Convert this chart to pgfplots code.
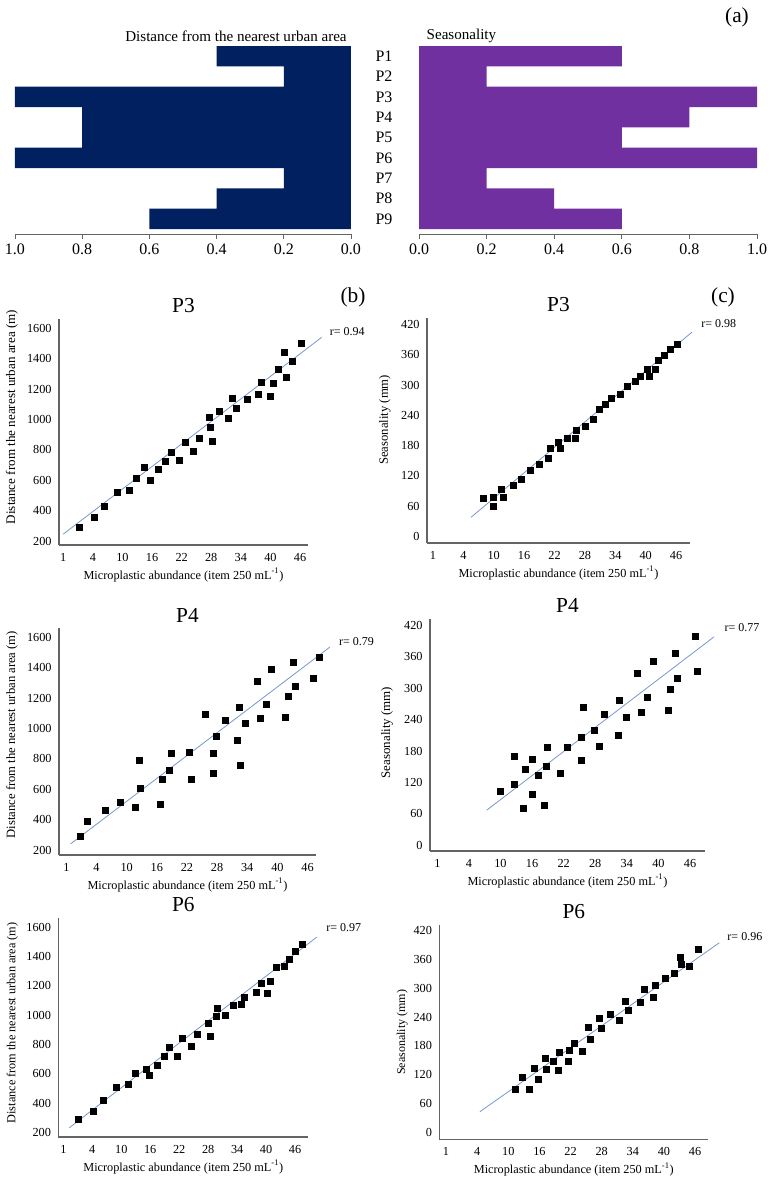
\documentclass[border=0pt]{standalone}
\usepackage{fontspec}
\setmainfont{Liberation Serif}
\usepackage{pgfplots}
\pgfplotsset{compat=1.18}
\definecolor{navy}{HTML}{002060}
\definecolor{purp}{HTML}{7030A0}
\definecolor{regline}{RGB}{120,150,205}
\definecolor{axgray}{RGB}{100,100,100}
\newcommand\tk{\fontsize{9.2}{10}\selectfont}
\newcommand\lab{\fontsize{9.2}{10}\selectfont}
\newcommand\ttl{\fontsize{16}{18}\selectfont}
\newcommand\rl{\fontsize{9}{10}\selectfont}
\newcommand\atk{\fontsize{12}{14}\selectfont}
\pgfplotsset{
  scat/.style={
    scale only axis, clip=false,
    axis lines*=left,
    axis line style={axgray, line width=0.8pt, -},
    major tick length=0pt,
    xtick={0,...,8}, xticklabels={1,4,10,16,22,28,34,40,46},
    tick label style={font=\tk},
    xticklabel style={yshift=-2.5pt},
    yticklabel style={xshift=-2pt},
    /pgf/number format/assume math mode=true,
    /pgf/number format/1000 sep={},
    xlabel={Microplastic abundance (item 250 mL\textsuperscript{-1})},
    xlabel style={font=\lab, at={(axis description cs:0.5,0)}, anchor=center, yshift=-22.5pt},
    title style={font=\ttl, at={(axis description cs:0.5,1)}, anchor=center, yshift=3.75pt},
  },
  bdist/.style={ytick={200,400,...,1600}, ylabel={Distance from the nearest urban area (m)}},
  cseas/.style={ytick={0,60,...,420}, ylabel={Seasonality (mm)}},
  pts/.style={only marks, mark=square*, mark size=2.25pt, color=black},
  reg/.style={draw=regline, line width=0.6pt, no marks},
  abar/.style={
    scale only axis, xbar, bar width=1,
    xmin=0, xmax=1, ymin=0.5, ymax=9.746, y dir=reverse,
    axis x line*=bottom, axis y line*=left,
    y axis line style={draw=none}, ytick style={draw=none},
    x axis line style={axgray, line width=0.6pt, -},
    xtick={0,0.2,...,1.0}, tick align=outside, major tick length=3.75pt,
    x tick style={axgray, line width=0.6pt},
    tick label style={font=\atk},
    /pgf/number format/assume math mode=true,
    xticklabel={\pgfmathprintnumber[fixed,fixed zerofill,precision=1]{\tick}},
    width=252pt, height=141pt,
  },
}
\begin{document}
\begin{tikzpicture}
\useasboundingbox (0,0) rectangle (579pt,-887.25pt);
% ---------- panel (a)
\begin{axis}[abar, at={(11.25pt,-34.5pt)}, anchor=north west, x dir=reverse, ytick=\empty]
\addplot[fill=navy, draw=none] coordinates {(0.4,1) (0.2,2) (1.0,3) (0.8,4) (0.8,5) (1.0,6) (0.2,7) (0.4,8) (0.6,9)};
\end{axis}
\begin{axis}[abar, at={(314.25pt,-34.5pt)}, anchor=north west, width=253.5pt,
  ytick={1,...,9}, yticklabels={P1,P2,P3,P4,P5,P6,P7,P8,P9},
  yticklabel style={anchor=center, xshift=-22.5pt}]
\addplot[fill=purp, draw=none] coordinates {(0.6,1) (0.2,2) (1.0,3) (0.8,4) (0.6,5) (1.0,6) (0.2,7) (0.4,8) (0.6,9)};
\end{axis}
\node[anchor=east, font=\fontsize{11.3}{13}\selectfont] at (263.5pt,-27pt) {Distance from the nearest urban area};
\node[anchor=west, font=\fontsize{11.3}{13}\selectfont] at (316.5pt,-27pt) {Seasonality};
\node[font=\ttl] at (552.75pt,-12.75pt) {(a)};
\node[font=\ttl] at (264.75pt,-222.75pt) {(b)};
\node[font=\ttl] at (542.25pt,-222.75pt) {(c)};
% ---------- b P3
\begin{axis}[scat, bdist, at={(44.25pt,-408.75pt)}, anchor=south west, width=186.75pt, height=169.5pt,
  xmin=-0.145, xmax=8.27, ymin=174, ymax=1662, title={P3},
  ylabel style={font=\fontsize{9.8}{10}\selectfont, at={(axis description cs:-0.189,0.566)}, anchor=center}]
\addplot[reg] coordinates {(0,246) (8.73,1541)};
\addplot[pts] coordinates {(0.54,294) (1.06,354) (1.39,428) (1.83,520) (2.24,534) (2.47,613) (2.75,685) (2.95,597) (3.22,670) (3.46,725) (3.65,784) (3.92,729) (4.11,848) (4.38,794) (4.61,876) (4.92,1017) (4.96,948) (5.04,860) (5.27,1054) (5.57,1006) (5.72,1139) (5.84,1074) (6.21,1131) (6.60,1164) (6.70,1247) (6.99,1153) (7.10,1236) (7.28,1330) (7.46,1440) (7.55,1277) (7.74,1385) (8.03,1502)};
\node[anchor=west, font=\rl] at (axis cs:8.85,1578) {r= 0.94};
\end{axis}
% ---------- c P3
\begin{axis}[scat, cseas, at={(320.25pt,-407.25pt)}, anchor=south west, width=197.25pt, height=168.75pt,
  xmin=-0.197, xmax=8.46, ymin=-13.2, ymax=433.3, title={P3},
  ylabel style={font=\fontsize{9.5}{10}\selectfont, at={(axis description cs:-0.160,0.547)}, anchor=center}]
\addplot[reg] coordinates {(1.25,37.7) (8.52,405)};
\addplot[pts] coordinates {(1.67,74.7) (1.97,59.5) (1.97,78) (2.24,92.6) (2.32,76.7) (2.63,100.5) (2.89,114) (3.20,132) (3.50,144) (3.79,154) (3.86,175) (4.12,186.5) (4.20,175) (4.41,194.5) (4.67,194.5) (4.73,210) (5.0,218) (5.26,231.5) (5.46,252) (5.68,263) (5.86,274) (6.16,282) (6.41,298) (6.67,307) (6.83,317.5) (7.06,332) (7.12,317.5) (7.33,332) (7.40,349) (7.61,360) (7.82,371) (8.05,382)};
\node[anchor=west, font=\rl] at (axis cs:8.68,423) {r= 0.98};
\end{axis}
% ---------- b P4
\begin{axis}[scat, bdist, at={(44.25pt,-641.25pt)}, anchor=south west, width=192.75pt, height=170.25pt,
  xmin=-0.243, xmax=8.28, ymin=167, ymax=1661.6, title={P4},
  ylabel style={font=\fontsize{9.5}{10}\selectfont, at={(axis description cs:-0.183,0.53)}, anchor=center}]
\addplot[reg] coordinates {(0.14,240) (8.74,1536)};
\addplot[pts] coordinates {(0.47,292) (0.68,391) (1.30,462) (1.79,514) (2.28,479) (2.41,789) (2.44,609) (3.10,501) (3.19,666) (3.43,723) (3.49,840) (4.09,844) (4.15,666) (4.60,1094) (4.87,703) (4.88,835) (4.96,947) (5.28,1051) (5.68,921) (5.72,1138) (5.78,756) (5.94,1033) (6.32,1308) (6.43,1068) (6.62,1160) (6.81,1391) (7.26,1075) (7.36,1211) (7.51,1437) (7.58,1277) (8.18,1330) (8.40,1470)};
\node[anchor=west, font=\rl] at (axis cs:8.89,1574) {r= 0.79};
\end{axis}
% ---------- c P4
\begin{axis}[scat, cseas, at={(322.5pt,-638.25pt)}, anchor=south west, width=206.25pt, height=174.25pt,
  xmin=-0.232, xmax=8.475, ymin=-10.8, ymax=432.7, title={P4},
  ylabel style={font=\fontsize{9.7}{10}\selectfont, at={(axis description cs:-0.156,0.51)}, anchor=center}]
\addplot[reg] coordinates {(1.56,67) (8.76,398)};
\addplot[pts] coordinates {(1.99,104) (2.43,171) (2.45,117) (2.72,71) (2.80,146) (3.02,163.5) (3.02,98) (3.21,134) (3.40,76) (3.46,151.4) (3.49,187) (3.88,138) (4.12,188) (4.55,162) (4.55,207) (4.62,263) (4.97,219.5) (5.13,189) (5.30,250) (5.72,211) (5.75,277) (5.97,244) (6.34,328) (6.46,255) (6.64,283) (6.84,352) (7.30,258) (7.39,298) (7.52,367) (7.61,318) (8.18,399.5) (8.22,333)};
\node[anchor=west, font=\rl] at (axis cs:8.95,415.5) {r= 0.77};
\end{axis}
% ---------- b P6
\begin{axis}[scat, bdist, at={(43.75pt,-852.75pt)}, anchor=south west, width=187.5pt, height=164.5pt,
  xmin=-0.173, xmax=8.458, ymin=170.5, ymax=1664, title={P6},
  ylabel style={font=\fontsize{9.2}{10}\selectfont, at={(axis description cs:-0.184,0.52)}, anchor=center}]
\addplot[reg] coordinates {(0.21,234) (8.75,1532)};
\addplot[pts] coordinates {(0.53,288.5) (1.05,347.5) (1.38,422.5) (1.83,511) (2.24,529) (2.47,606) (2.85,631) (2.96,590) (3.23,661) (3.47,722) (3.67,779) (3.95,722) (4.12,842) (4.41,788) (4.63,870) (5.0,942) (5.07,856) (5.27,992) (5.31,1044) (5.59,1001) (5.87,1069) (6.15,1072) (6.26,1124) (6.65,1158) (6.85,1215) (7.04,1147) (7.16,1233) (7.34,1326) (7.62,1333) (7.80,1383) (8.0,1433) (8.25,1480)};
\node[anchor=west, font=\rl] at (axis cs:8.92,1594) {r= 0.97};
\end{axis}
% ---------- c P6
\begin{axis}[scat, cseas, at={(329.5pt,-854.5pt)}, anchor=south west, width=201.75pt, height=160.75pt,
  xmin=-0.214, xmax=8.426, ymin=-14.6, ymax=431.9, title={P6},
  ylabel style={font=\fontsize{9}{10}\selectfont, at={(axis description cs:-0.138,0.5)}, anchor=center}]
\addplot[reg] coordinates {(1.09,43) (8.78,395)};
\addplot[pts] coordinates {(2.22,90) (2.46,114.6) (2.66,90) (2.85,133) (2.95,110) (3.19,155) (3.22,131) (3.45,149) (3.61,128.5) (3.65,166) (3.94,149) (3.96,170) (4.11,185) (4.39,169) (4.58,218) (4.63,194) (4.92,237.5) (4.98,216.7) (5.29,247) (5.58,232.6) (5.77,274) (5.87,254) (6.25,270) (6.38,299) (6.65,280.5) (6.73,305.5) (7.03,320) (7.32,332) (7.53,364) (7.55,350) (7.80,347) (8.09,382)};
\node[anchor=west, font=\rl] at (axis cs:8.89,407.6) {r= 0.96};
\end{axis}
\end{tikzpicture}
\end{document}
